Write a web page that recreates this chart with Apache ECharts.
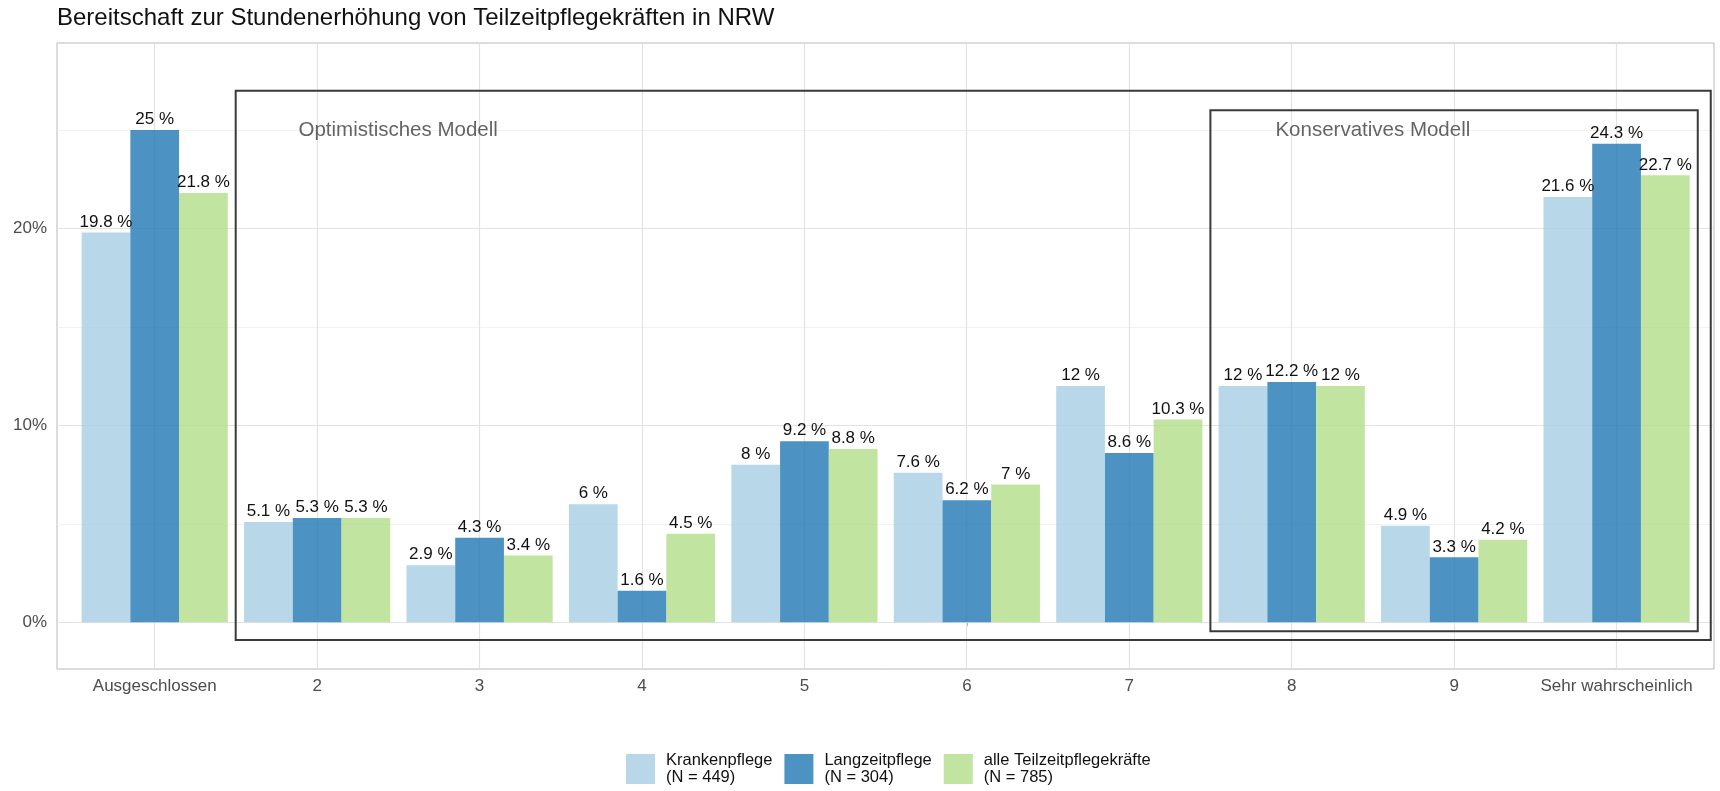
<!DOCTYPE html>
<html>
<head>
<meta charset="utf-8">
<title>Bereitschaft zur Stundenerhöhung</title>
<script src="https://cdn.jsdelivr.net/npm/echarts@6/dist/echarts.min.js"></script>
<style>
  html, body { margin: 0; padding: 0; background: #fff; }
  #chart { width: 1720px; height: 791px; }
</style>
</head>
<body>
<div id="chart"></div>
<script>
// data
const categories = ['Ausgeschlossen', '2', '3', '4', '5', '6', '7', '8', '9', 'Sehr wahrscheinlich']
const krankenpflege = [19.8, 5.1, 2.9, 6, 8, 7.6, 12, 12, 4.9, 21.6]
const langzeitpflege = [25, 5.3, 4.3, 1.6, 9.2, 6.2, 8.6, 12.2, 3.3, 24.3]
const alleTeilzeit = [21.8, 5.3, 3.4, 4.5, 8.8, 7, 10.3, 12, 4.2, 22.7]
const seriesNames = ['Krankenpflege\n(N = 449)', 'Langzeitpflege\n(N = 304)', 'alle Teilzeitpflegekräfte\n(N = 785)']
// Paired palette at alpha 0.8
const seriesColors = ['rgba(166,206,227,0.8)', 'rgba(31,120,180,0.8)', 'rgba(178,223,138,0.8)']

const yBreaks = [0, 10, 20]
const yMinorBreaks = [5, 15, 25]

// model boxes + their captions (x in category units, 0 = first category)
const modelNames = ['Optimistisches Modell', 'Konservatives Modell']
const modelLabelX = [1.5, 7.5]
const modelLabelY = [25, 25]
const boxXMin = [0.5, 6.5]
const boxXMax = [9.58, 9.5]
const boxYMin = [-0.9, -0.45]
const boxYMax = [27, 26]

const FONT = 'Liberation Sans, Arial, Helvetica, sans-serif'
const yMin = -2.37
const yMax = 29.42

const chart = echarts.init(document.getElementById('chart'))

const majorLine = {color: '#e3e3e3', width: 1.2, type: 'solid'}
const minorLine = {color: '#efefef', width: 0.8, type: 'solid'}

const barSeries = [krankenpflege, langzeitpflege, alleTeilzeit].map((values, i) => ({
  name: seriesNames[i],
  type: 'bar',
  xAxisIndex: 1,
  yAxisIndex: 1,
  z: 3,
  barWidth: '30%',
  barGap: '0%',
  data: values,
  itemStyle: {color: seriesColors[i]},
  label: {
    show: true,
    position: 'top',
    distance: 2,
    color: '#111',
    fontSize: 17,
    fontFamily: FONT,
    formatter: (p) => `${p.value} %`
  }
}))

const option = {
  animation: false,
  textStyle: {fontFamily: FONT},
  title: {
    text: 'Bereitschaft zur Stundenerhöhung von Teilzeitpflegekräften in NRW',
    left: 57,
    top: 6,
    padding: 0,
    textStyle: {fontSize: 24, fontWeight: 'normal', color: '#111', fontFamily: FONT}
  },
  legend: {
    data: seriesNames,
    left: 626,
    top: 752,
    padding: 0,
    icon: 'rect',
    itemWidth: 29,
    itemHeight: 30,
    itemGap: 12,
    textStyle: {fontSize: 16.5, lineHeight: 17, color: '#111', fontFamily: FONT, padding: [0, 0, 0, 6]}
  },
  grid: [
    {left: 57, right: 6, top: 43, bottom: 122, show: true, borderColor: '#b8b8b8', borderWidth: 1},
    {left: 73.5, right: 22.2, top: 43, bottom: 122}
  ],
  xAxis: [
    {gridIndex: 0, type: 'value', min: -0.6, max: 9.6, show: false},
    {
      gridIndex: 1,
      type: 'category',
      data: categories,
      axisLine: {show: false},
      axisTick: {show: true, alignWithLabel: true, length: 4, lineStyle: {color: '#b3b3b3'}},
      axisLabel: {color: '#4d4d4d', fontSize: 17, margin: 9, interval: 0},
      splitLine: {show: false}
    }
  ],
  yAxis: [
    {
      gridIndex: 0,
      type: 'value',
      min: yMin,
      max: yMax,
      axisLine: {show: false},
      axisTick: {show: true, length: 4, customValues: yBreaks, lineStyle: {color: '#b3b3b3'}},
      axisLabel: {
        customValues: yBreaks,
        color: '#4d4d4d',
        fontSize: 17,
        margin: 10,
        formatter: (v) => yBreaks.includes(v) ? `${v}%` : ''
      },
      splitLine: {show: false}
    },
    {gridIndex: 1, type: 'value', min: yMin, max: yMax, show: false}
  ],
  series: [
    {
      // panel grid lines
      type: 'line',
      xAxisIndex: 0,
      yAxisIndex: 0,
      z: 1,
      data: [],
      silent: true,
      markLine: {
        z: 1,
        silent: true,
        symbol: ['none', 'none'],
        label: {show: false},
        animation: false,
        data: [
          ...yMinorBreaks.map(v => ({yAxis: v, lineStyle: minorLine})),
          ...yBreaks.map(v => ({yAxis: v, lineStyle: majorLine})),
          ...categories.map((c, i) => ({xAxis: i, lineStyle: majorLine}))
        ]
      }
    },
    ...barSeries,
    {
      // model captions and boxes
      type: 'scatter',
      xAxisIndex: 0,
      yAxisIndex: 0,
      z: 5,
      silent: true,
      symbolSize: 1,
      itemStyle: {color: 'rgba(0,0,0,0)'},
      data: modelNames.map((n, i) => ({name: n, value: [modelLabelX[i], modelLabelY[i]]})),
      label: {
        show: true,
        position: 'inside',
        formatter: '{b}',
        color: '#3d3d3d',
        fontSize: 20.5,
        fontFamily: FONT
      },
      markArea: {
        z: 6,
        silent: true,
        itemStyle: {color: 'rgba(0,0,0,0)', borderColor: '#3a3a3a', borderWidth: 2},
        label: {show: false},
        data: boxXMin.map((x, i) => [
          {coord: [x, boxYMin[i]]},
          {coord: [boxXMax[i], boxYMax[i]]}
        ])
      }
    }
  ]
}

chart.setOption(option)
</script>
</body>
</html>
